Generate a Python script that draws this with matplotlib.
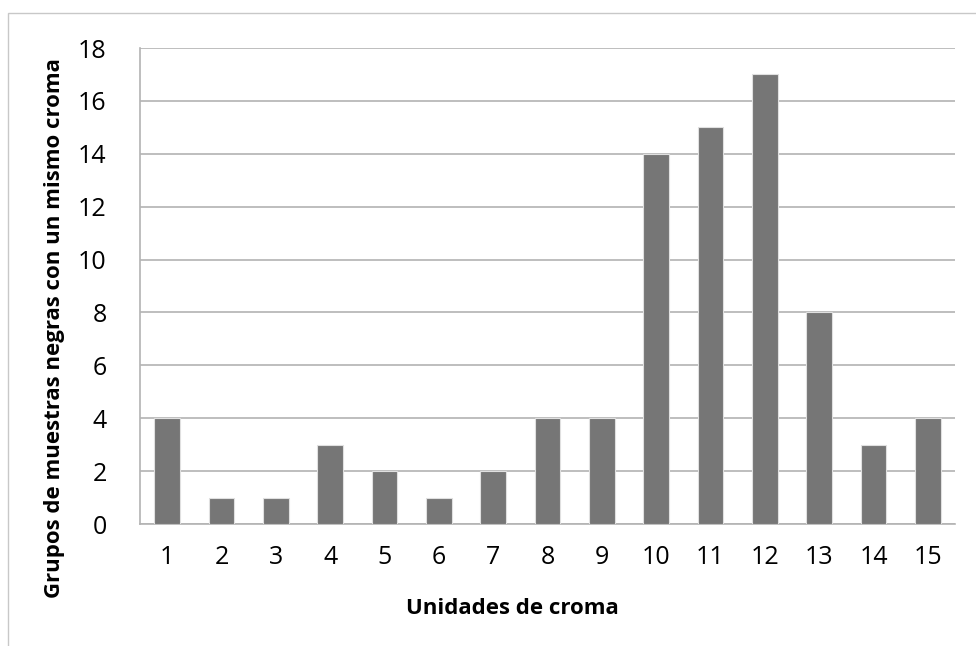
import matplotlib
import numpy as np

matplotlib.use("Agg")
import matplotlib.pyplot as plt
from matplotlib.patches import Rectangle

plt.rcParams["font.family"] = ["Open Sans", "DejaVu Sans"]

# chroma units and number of black-sample groups per unit
unidades = [1, 2, 3, 4, 5, 6, 7, 8, 9, 10, 11, 12, 13, 14, 15]
grupos = [4, 1, 1, 3, 2, 1, 2, 4, 4, 14, 15, 17, 8, 3, 4]
y_ticks = [0, 2, 4, 6, 8, 10, 12, 14, 16, 18]

GRID = "#b3b3b3"
BAR = "#767676"
W, H = 976, 646
L, R, T, B = 140, 955, 48, 524  # plot area in pixels

fig = plt.figure(figsize=(W / 100, H / 100), dpi=100)
# light chart-area frame as in the spreadsheet export
fig.patches.append(Rectangle((8 / W, -0.01), 1.0, 1 - 13 / H + 0.01,
                             transform=fig.transFigure, fill=False,
                             edgecolor="#c8c8c8", linewidth=1.0))

ax = fig.add_axes([L / W, 1 - B / H, (R - L) / W, (B - T) / H])
x = np.arange(len(unidades))
ax.bar(x, grupos, width=0.47, color=BAR, edgecolor="#e0e0e0", linewidth=0.8, zorder=3)

ax.set_xlim(-0.5, len(unidades) - 0.5)
ax.set_ylim(0, 18)
ax.set_yticks(y_ticks)
ax.set_xticks(x)
ax.set_xticklabels([str(u) for u in unidades])
ax.yaxis.grid(True, color=GRID, linewidth=1.2, zorder=0)
ax.tick_params(axis="both", length=0, labelsize=18, colors="black")
ax.tick_params(axis="x", pad=15)
ax.tick_params(axis="y", pad=24)
for side in ["top", "right"]:
    ax.spines[side].set_visible(False)
for side in ["left", "bottom"]:
    ax.spines[side].set_color(GRID)
    ax.spines[side].set_linewidth(1.2)

ax.set_xlabel("Unidades de croma", fontsize=16, fontweight="bold")
ax.set_ylabel("Grupos de muestras negras con un mismo croma", fontsize=16,
              fontweight="bold")
ax.xaxis.set_label_coords((512 - L) / (R - L), (B - 598) / (B - T))
ax.yaxis.set_label_coords((65 - L) / (R - L), (B - 328) / (B - T))

fig.savefig("out.png", dpi=100)
